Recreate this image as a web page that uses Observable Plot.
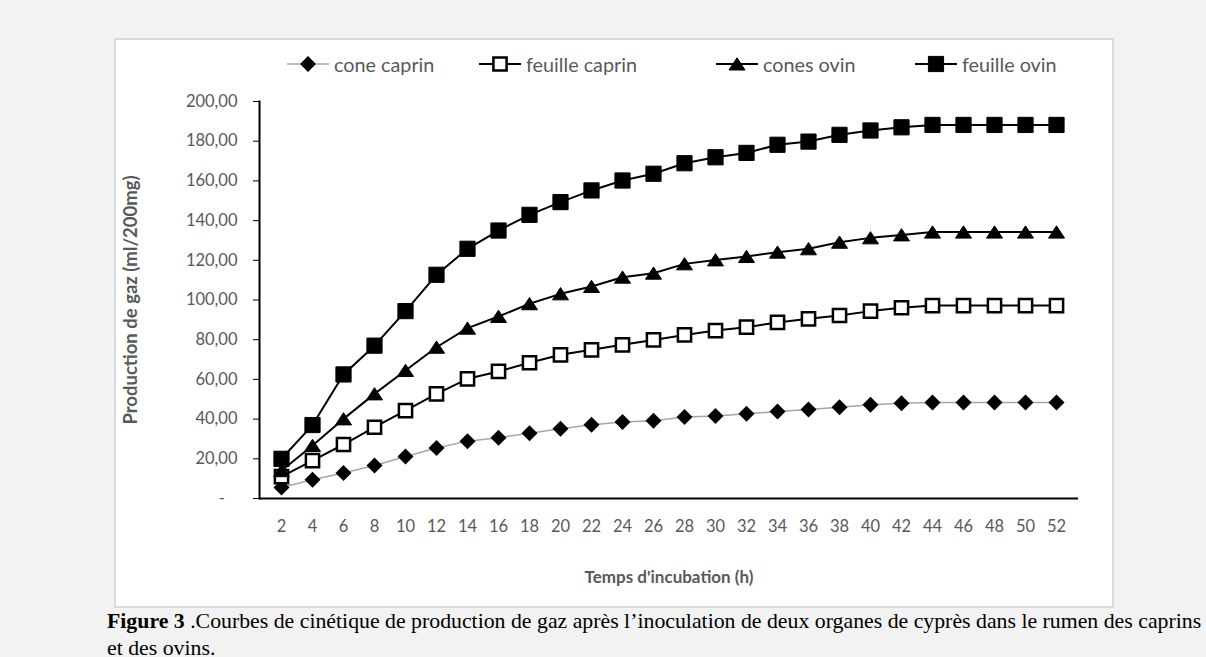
<!DOCTYPE html>
<html><head><meta charset="utf-8">
<script src="https://cdn.jsdelivr.net/npm/d3@7"></script>
<script src="https://cdn.jsdelivr.net/npm/@observablehq/plot@0.6"></script>
<style>
html,body{margin:0;padding:0}
body{background:#f2f2f2;width:1206px;height:657px;overflow:hidden;position:relative;font-family:Lato,sans-serif}
#box{position:absolute;left:114px;top:38px;width:1000px;height:570px;border:2px solid #d9d9d9;box-sizing:border-box;background:#fff}
#chart{position:absolute;left:0;top:0}
.leg{position:absolute;top:54px;height:20px;display:flex;align-items:center;color:#595959;font-size:19.8px;white-space:nowrap}
.leg svg{margin-right:5px;overflow:visible}
#caption{position:absolute;left:107px;top:608px;font-family:"Liberation Serif","Times New Roman",serif;font-size:21.8px;line-height:27px;color:#000;white-space:nowrap}
</style></head><body>
<div id="box"><div id="chart"></div></div>
<div id="legend"></div>
<div id="caption"><b>Figure 3</b> .Courbes de cinétique de production de gaz après l’inoculation de deux organes de cyprès dans le rumen des caprins<br>et des ovins.</div>
<script>
const hours = [2,4,6,8,10,12,14,16,18,20,22,24,26,28,30,32,34,36,38,40,42,44,46,48,50,52];
const seriesNames = ["cone caprin","feuille caprin","cones ovin","feuille ovin"];
const coneCaprin   = [5.5,9.4,12.8,16.6,21.2,25.4,28.9,30.6,32.9,35.1,37.1,38.6,39.2,41.0,41.5,42.7,43.8,44.8,46.0,47.2,48.0,48.4,48.4,48.4,48.4,48.4];
const feuilleCaprin= [11,19.1,27.2,35.9,44.3,52.7,60.3,64.0,68.4,72.4,74.9,77.4,79.9,82.4,84.6,86.3,88.7,90.5,92.2,94.4,96.1,97.2,97.2,97.2,97.2,97.2];
const conesOvin    = [14,26.7,40.1,52.7,64.5,76.2,85.8,91.7,98.1,103.1,106.8,111.5,113.5,118.2,120.2,121.9,124.1,125.8,129.1,131.3,132.8,134.2,134.2,134.2,134.2,134.2];
const feuilleOvin  = [20,37,62.5,77,94.4,112.7,125.8,135,142.9,149.3,155.2,160.2,163.6,168.9,171.9,174.1,178.2,179.8,183.2,185.4,187.0,188.2,188.2,188.2,188.2,188.2];
const yTicks = [0,20,40,60,80,100,120,140,160,180,200];
const xTitle = "Temps d'incubation (h)";
const yTitle = "Production de gaz (ml/200mg)";

const rad = size => Math.sqrt(size / Math.PI);
const symDiamond = {draw(c, s){const r = rad(s); c.moveTo(0,-r); c.lineTo(r,0); c.lineTo(0,r); c.lineTo(-r,0); c.closePath();}};
const symSquare = {draw(c, s){const r = rad(s); c.rect(-r,-r,2*r,2*r);}};
const symTriangle = {draw(c, s){const r = rad(s); c.moveTo(0,-0.78*r); c.lineTo(r,0.75*r); c.lineTo(-r,0.75*r); c.closePath();}};

const styles = [
  {line:"#a6a6a6", lw:1.5, symbol:symDiamond, r:8, fill:"#000", stroke:"none", sw:0},
  {line:"#000", lw:2, symbol:symSquare, r:6.6, fill:"#fff", stroke:"#000", sw:2.5},
  {line:"#000", lw:2, symbol:symTriangle, r:8, fill:"#000", stroke:"#000", sw:1},
  {line:"#000", lw:2, symbol:symSquare, r:7.6, fill:"#000", stroke:"#000", sw:1}
];
const values = [coneCaprin, feuilleCaprin, conesOvin, feuilleOvin];
const series = seriesNames.map((name, k) => hours.map((h, i) => ({h, v: values[k][i], name})));

const fmt = v => v === 0 ? "-\u00a0\u00a0\u00a0" : d3.format(".2f")(v).replace(".", ",");

const marks = [
  Plot.axisY({ticks: yTicks, tickSize: 6, tickPadding: 16, tickFormat: fmt, stroke: "#000", fill: "#595959", label: null}),
  Plot.axisX({tickSize: 0, tickPadding: 22, fill: "#595959", label: null}),
  Plot.ruleY([0], {stroke: "#000", strokeWidth: 2}),
  Plot.frame({anchor: "left", stroke: "#000", strokeWidth: 2}),
  Plot.text([yTitle], {frameAnchor: "left", dx: -128, rotate: -90, textAnchor: "middle", fontWeight: "bold", fontSize: 18.5, fill: "#595959"}),
  Plot.text([xTitle], {frameAnchor: "bottom", dy: 84, textAnchor: "middle", fontWeight: "bold", fontSize: 17, fill: "#595959"})
];
series.forEach((data, k) => {
  const s = styles[k];
  marks.push(Plot.line(data, {x: "h", y: "v", stroke: s.line, strokeWidth: s.lw}));
  marks.push(Plot.dot(data, {x: "h", y: "v", symbol: s.symbol, r: s.r, fill: s.fill, stroke: s.stroke, strokeWidth: s.sw}));
});

const chart = Plot.plot({
  width: 996, height: 566,
  marginLeft: 143, marginRight: 34, marginTop: 61, marginBottom: 108,
  style: {fontFamily: "Lato, sans-serif", fontSize: "16.5px", color: "#595959", background: "transparent", overflow: "visible"},
  x: {type: "point", domain: hours, padding: 0.5},
  y: {domain: [0, 200]},
  marks
});
document.getElementById("chart").appendChild(chart);

// legend
const legX = [287, 479, 716, 915];
const legend = d3.select("#legend");
seriesNames.forEach((name, k) => {
  const s = styles[k];
  const item = legend.append("div").attr("class", "leg").style("left", legX[k] + "px");
  const svg = item.append("svg").attr("width", 42).attr("height", 20);
  svg.append("line").attr("x1", 0).attr("x2", 42).attr("y1", 10).attr("y2", 10).attr("stroke", s.line).attr("stroke-width", s.lw);
  svg.append("path").attr("transform", "translate(21,10)")
    .attr("d", d3.symbol(s.symbol, s.r * s.r * Math.PI)())
    .attr("fill", s.fill).attr("stroke", s.stroke).attr("stroke-width", s.sw);
  item.append("span").text(name);
});
</script>
</body></html>
